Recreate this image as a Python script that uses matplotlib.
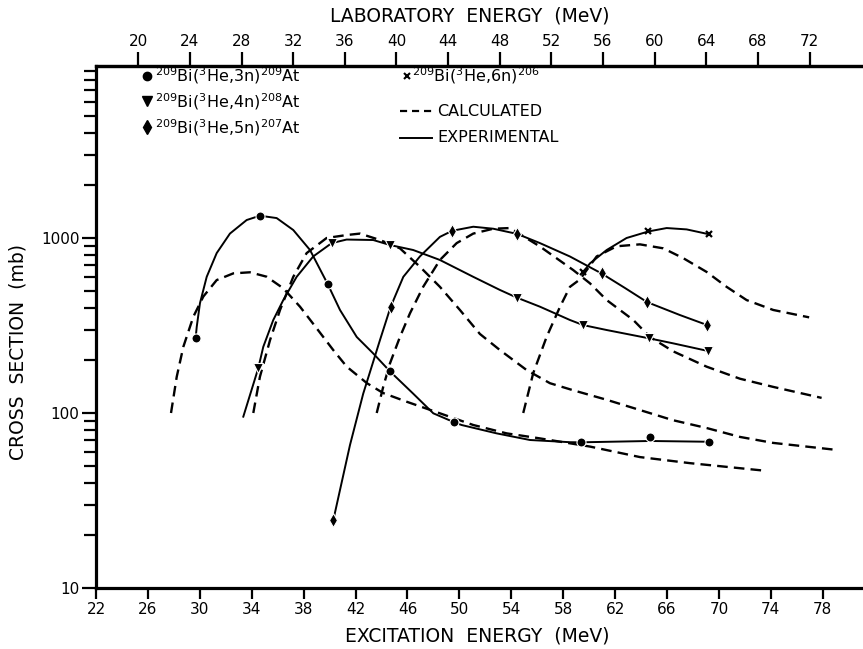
import matplotlib
matplotlib.use("Agg")

import matplotlib.pyplot as plt
from matplotlib.ticker import FixedLocator, LogLocator, NullFormatter, FuncFormatter
from matplotlib.lines import Line2D

plt.rcParams["font.family"] = ["DejaVu Sans"]

# =========================
# data (E in MeV excitation, sigma in mb)
# =========================
# measured points
e3_pts = [29.68, 34.63, 39.85, 44.65, 49.60, 59.34, 64.70, 69.23]
s3_pts = [269, 1341, 546, 173, 88.5, 68, 73.2, 68.5]
e4_pts = [34.50, 40.16, 44.65, 54.41, 59.54, 64.63, 69.17]
s4_pts = [180, 935, 912, 457, 318, 267, 226]
e5_pts = [40.29, 44.70, 49.45, 54.46, 60.96, 64.47, 69.10]
s5_pts = [24.5, 404, 1100, 1055, 627, 430, 318]
e6_pts = [59.54, 64.56, 69.25]
s6_pts = [640, 1090, 1050]

# experimental (solid) curves
e3_exp = [29.68, 29.76, 30.01, 30.53, 31.30, 32.32, 33.61, 34.63, 35.92, 37.20, 38.49, 39.85,
          40.80, 42.09, 43.36, 44.65, 46.44, 47.99, 49.60, 50.17, 52.87, 55.44, 58.52, 59.34,
          64.68, 69.23]
s3_exp = [269, 310, 424, 600, 820, 1060, 1267, 1341, 1300, 1111, 854, 546,
          388, 272, 219, 173, 129, 99.6, 88.5, 85.4, 76.5, 70.1, 68.1, 68,
          69.2, 68.5]
e4_exp = [33.35, 34.50, 34.89, 35.66, 36.43, 37.46, 38.74, 40.16, 41.31, 43.36, 44.65, 46.44,
          48.50, 51.07, 53.12, 54.41, 56.21, 58.52, 59.54, 61.35, 64.63, 66.48, 69.17]
s4_exp = [95.3, 180, 239, 340, 442, 600, 785, 935, 980, 974, 912, 854,
          749, 600, 505, 457, 405, 340, 318, 298, 267, 250, 226]
e5_exp = [40.29, 40.80, 41.57, 42.59, 43.88, 44.70, 45.68, 46.96, 48.50, 49.45, 51.07, 52.61,
          54.46, 56.21, 58.52, 60.96, 62.76, 64.47, 66.99, 69.10]
s5_exp = [24.5, 36.3, 65.6, 129, 261, 404, 600, 785, 1015, 1100, 1160, 1130,
          1055, 935, 784, 627, 518, 430, 363, 318]
e6_exp = [59.54, 60.06, 61.35, 62.88, 64.56, 65.97, 67.51, 69.25]
s6_exp = [640, 716, 854, 1000, 1090, 1140, 1120, 1050]

# calculated (dashed) curves
e3_calc = [27.78, 28.22, 28.73, 29.50, 30.27, 31.30, 32.58, 33.86, 35.15, 36.43, 37.72, 39.00,
           40.28, 41.32, 42.88, 44.13, 45.94, 48.50, 51.07, 53.64, 56.21, 60.06, 63.91, 67.76,
           73.41]
s3_calc = [100, 161, 239, 355, 463, 575, 628, 637, 601, 516, 405, 305,
           229, 184, 148, 130, 116, 99.6, 85.4, 76.5, 71.6, 64.3, 56.0, 51.7,
           46.9]
e4_calc = [34.12, 34.63, 35.41, 36.18, 37.20, 38.23, 39.77, 41.31, 42.34, 43.88, 45.42, 46.96,
           48.50, 50.04, 51.58, 53.12, 55.18, 56.98, 58.75, 61.35, 63.91, 66.45, 69.07, 71.62,
           74.16, 79.09]
s4_calc = [100, 161, 261, 388, 600, 820, 1000, 1040, 1060, 974, 873, 685,
           526, 388, 283, 229, 176, 148, 135, 119, 104, 91, 82, 73,
           67.5, 61.5]
e5_calc = [43.63, 44.13, 44.65, 45.42, 46.19, 47.21, 48.50, 49.79, 51.07, 52.61, 53.90, 56.21,
           58.77, 60.06, 61.35, 63.40, 64.68, 66.48, 69.05, 71.62, 74.18, 77.91]
s5_calc = [100, 141, 192, 272, 371, 526, 749, 935, 1060, 1130, 1140, 894,
           656, 551, 442, 340, 272, 225, 184, 157, 141, 122]
e6_calc = [54.92, 55.69, 56.72, 57.75, 58.52, 59.29, 60.58, 62.12, 63.91, 65.71, 67.25, 69.05,
           70.59, 72.13, 74.18, 76.95]
s6_calc = [100, 169, 272, 404, 526, 580, 785, 897, 920, 873, 767, 640,
           526, 442, 388, 352]

exc_ticks = list(range(22, 79, 4))
lab_ticks = list(range(20, 73, 4))
y_major = [10, 100, 1000]

legend_rows = [
    r"$^{209}$Bi($^{3}$He,3n)$^{209}$At",
    r"$^{209}$Bi($^{3}$He,4n)$^{208}$At",
    r"$^{209}$Bi($^{3}$He,5n)$^{207}$At",
]
legend_6n = r"$^{209}$Bi($^{3}$He,6n)$^{206}$"


def exc_to_lab(e):
    return (e - 5.37) / 0.9946


def lab_to_exc(l):
    return l * 0.9946 + 5.37


# =========================
# figure
# =========================
W, H = 863, 649
fig = plt.figure(figsize=(W / 100, H / 100), dpi=100)
ax = fig.add_axes([96 / W, 61 / H, 767 / W, 522 / H])

dash = (0, (4.5, 2.6))
for e, s in [(e3_calc, s3_calc), (e4_calc, s4_calc), (e5_calc, s5_calc), (e6_calc, s6_calc)]:
    ax.plot(e, s, color="black", lw=1.7, ls=dash, zorder=2)
for e, s in [(e3_exp, s3_exp), (e4_exp, s4_exp), (e5_exp, s5_exp), (e6_exp, s6_exp)]:
    ax.plot(e, s, color="black", lw=1.4, zorder=3, solid_joinstyle="round")

mk = dict(ls="none", color="black", mec="white", mew=0.8, zorder=5)
ax.plot(e3_pts, s3_pts, "o", ms=6.5, **mk)
ax.plot(e4_pts, s4_pts, "v", ms=7, **mk)
ax.plot(e5_pts, s5_pts, "d", ms=7.5, **mk)
ax.plot(e6_pts, s6_pts, "x", ms=4.5, ls="none", color="black", mew=1.6, zorder=5)

ax.set_yscale("log")
ax.set_xlim(22, 81.1)
ax.set_ylim(10, 9615)

ax.xaxis.set_major_locator(FixedLocator(exc_ticks))
ax.yaxis.set_major_locator(FixedLocator(y_major))
ax.yaxis.set_minor_locator(LogLocator(base=10, subs=range(2, 10)))
ax.yaxis.set_major_formatter(FuncFormatter(lambda v, p: f"{v:g}"))
ax.yaxis.set_minor_formatter(NullFormatter())

ax.tick_params(axis="x", which="both", direction="out", length=8, width=1.6,
               labelsize=11, top=False, pad=2)
ax.tick_params(axis="y", which="major", direction="out", length=10, width=1.6,
               labelsize=11, pad=2)
ax.tick_params(axis="y", which="minor", direction="out", length=9, width=1.6)

for side in ["left", "bottom", "top"]:
    ax.spines[side].set_linewidth(2.3)
ax.spines["right"].set_visible(False)

secax = ax.secondary_xaxis("top", functions=(exc_to_lab, lab_to_exc))
secax.set_xticks(lab_ticks)
secax.tick_params(direction="out", length=10, width=1.6, labelsize=11, pad=2)
secax.spines["top"].set_linewidth(2.3)

# axis titles
fig.text(470 / W, 1 - 16 / H, "LABORATORY  ENERGY  (MeV)", ha="center", va="center", fontsize=13.5)
fig.text(477 / W, 1 - 636 / H, "EXCITATION  ENERGY  (MeV)", ha="center", va="center", fontsize=13.5)
fig.text(18 / W, 1 - 352 / H, "CROSS  SECTION  (mb)", ha="center", va="center",
         rotation=90, fontsize=13.5)

# legend drawn by hand in the upper left corner
def fx(px):
    return px / W


def fy(py):
    return 1 - py / H


for (m, ms), label, py in zip([("o", 6), ("v", 6.5), ("d", 7)], legend_rows, [76, 101, 127]):
    fig.lines.append(Line2D([fx(147)], [fy(py)], marker=m, ms=ms, color="black",
                            ls="none", transform=fig.transFigure))
    fig.text(fx(155), fy(py + 6), label, ha="left", va="baseline", fontsize=11.5)

fig.lines.append(Line2D([fx(407)], [fy(76)], marker="x", ms=4, mew=1.5, color="black",
                        ls="none", transform=fig.transFigure))
fig.text(fx(412), fy(82), legend_6n, ha="left", va="baseline", fontsize=11.5)

fig.lines.append(Line2D([fx(400), fx(432)], [fy(111), fy(111)], color="black", lw=1.6,
                        ls=(0, (3.2, 2.2)), transform=fig.transFigure))
fig.text(fx(437), fy(111), "CALCULATED", ha="left", va="center", fontsize=11.5)
fig.lines.append(Line2D([fx(400), fx(432)], [fy(138), fy(138)], color="black", lw=1.4,
                        transform=fig.transFigure))
fig.text(fx(437), fy(138), "EXPERIMENTAL", ha="left", va="center", fontsize=11.5)

fig.savefig("out.png", dpi=100, facecolor="white")
